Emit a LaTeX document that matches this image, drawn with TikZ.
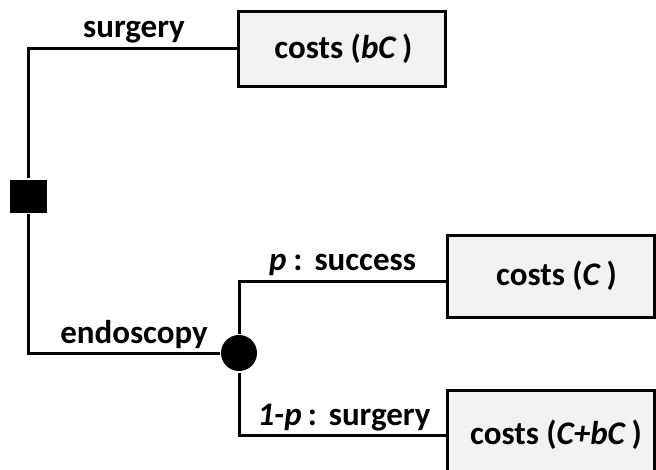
\documentclass[tikz,border=0pt]{standalone}
\usepackage{fontspec}
\setmainfont{Carlito}
\begin{document}
\begin{tikzpicture}[x=1pt,y=-1pt,
  line width=3pt,
  costbox/.style={draw=black, fill=gray!10, line width=3pt, minimum width=207pt, inner sep=0pt, font=\fontsize{33}{40}\selectfont\bfseries},
  decnode/.style={fill=black, minimum width=37pt, minimum height=33pt, inner sep=0pt},
  chancenode/.style={circle, fill=black, minimum size=36pt, inner sep=0pt},
  branchlabel/.style={anchor=base, inner sep=0pt, font=\fontsize{33}{40}\selectfont\bfseries}
]
\useasboundingbox (0,0) rectangle (656,469);
\node[decnode] (dec) at (28,196) {};
\node[chancenode] (chance) at (239,353) {};
\node[costbox, minimum height=75pt] (b1) at (342,48.5) {\hspace*{3pt}costs (\textit{bC}\,)};
\node[costbox, minimum height=82pt] (b2) at (550.5,276) {\hspace*{12pt}costs (\textit{C}\,)};
\node[costbox, minimum height=90pt] (b3) at (550.5,435) {\hspace*{11pt}costs (\textit{C+bC}\,)};
\coordinate (b2in) at (448,281);
\draw (dec.north) |- (b1.west);
\draw (dec.south) |- (chance.west);
\draw (chance.north) |- (b2in);
\draw (chance.south) |- (b3.west);
\node[branchlabel] (l1) at (134,37) {surgery};
\node[branchlabel] (l2) at (134,343) {endoscopy};
\node[branchlabel] (l3) at (342.5,270) {\textit{p}\hspace{7pt}:\hspace{12pt}success};
\node[branchlabel] (l4) at (344,425) {\textit{1-p}\hspace{6pt}:\hspace{12pt}surgery};
\end{tikzpicture}
\end{document}
